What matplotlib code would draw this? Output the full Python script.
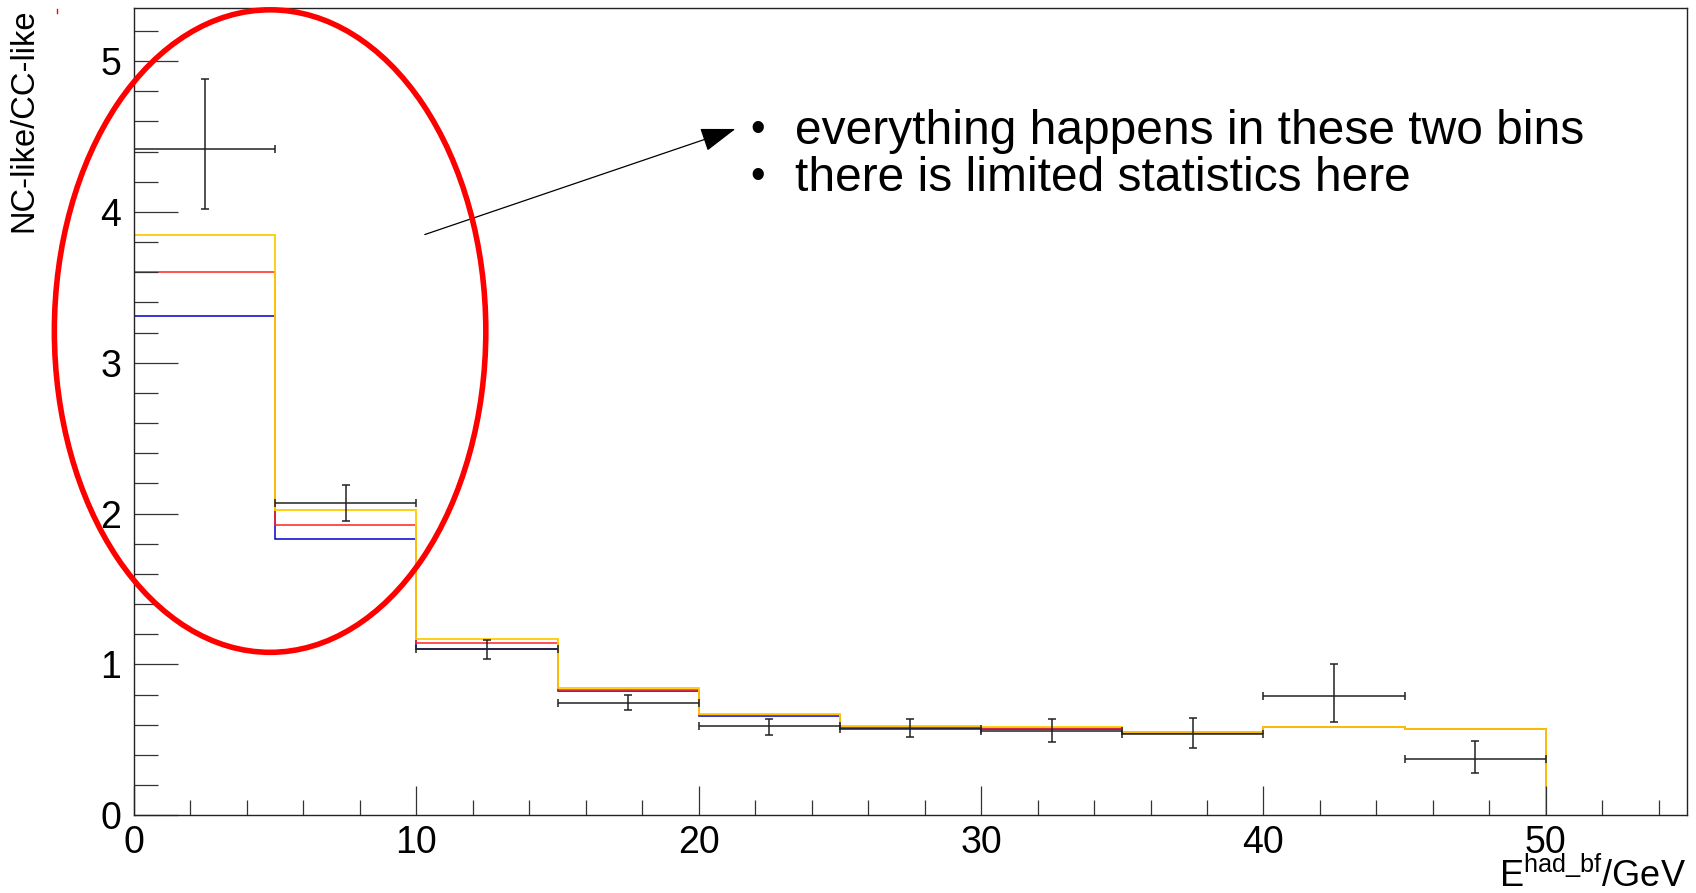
import numpy as np
import matplotlib
matplotlib.use('Agg')
import matplotlib.pyplot as plt
from matplotlib.patches import Ellipse

plt.rcParams['font.family'] = ['Liberation Sans', 'DejaVu Sans']
plt.rcParams['mathtext.fontset'] = 'custom'
plt.rcParams['mathtext.rm'] = 'Liberation Sans'
plt.rcParams['mathtext.it'] = 'Liberation Sans'

# bin edges in E_had_bf (GeV)
edges = [0, 5, 10, 15, 20, 25, 30, 35, 40, 45, 50]

# measured ratio with errors
data_y = [4.42, 2.07, 1.10, 0.745, 0.59, 0.57, 0.556, 0.536, 0.79, 0.372]
data_err_lo = [0.40, 0.12, 0.065, 0.05, 0.055, 0.05, 0.07, 0.09, 0.17, 0.09]
data_err_hi = [0.46, 0.12, 0.06, 0.05, 0.05, 0.07, 0.085, 0.11, 0.21, 0.12]

# model curves
blue_y = [3.31, 1.83, 1.104, 0.822, 0.655, 0.576, 0.571, 0.545, 0.582, 0.573]
red_y = [3.60, 1.924, 1.139, 0.833, 0.665, 0.582, 0.575, 0.549, 0.582, 0.573]
yellow_y = [3.85, 2.024, 1.168, 0.846, 0.673, 0.589, 0.582, 0.553, 0.582, 0.573]

centers = [(a + b) / 2 for a, b in zip(edges[:-1], edges[1:])]
half_w = [(b - a) / 2 for a, b in zip(edges[:-1], edges[1:])]

fig = plt.figure(figsize=(16.96, 8.93), dpi=100)
ax = fig.add_axes([0.079, 0.0871, 0.9157, 0.9036])

ax.stairs(blue_y, edges, baseline=0, color='#0000cc', lw=1.1)
ax.stairs(red_y, edges, baseline=0, color='#ff2020', lw=1.1)
ax.stairs(yellow_y, edges, baseline=0, color='#ffcc00', lw=1.3)

ax.errorbar(centers, data_y, xerr=half_w, yerr=[data_err_lo, data_err_hi],
            fmt='none', ecolor='#222222', elinewidth=1.1, capsize=3, capthick=1.1)

ax.set_xlim(0, 55)
ax.set_ylim(0, 5.35)
ax.set_xticks([0, 10, 20, 30, 40, 50])
ax.set_xticks(np.arange(0, 56, 2), minor=True)
ax.set_yticks([0, 1, 2, 3, 4, 5])
ax.set_yticks(np.arange(0, 5.35, 0.2), minor=True)

ax.tick_params(axis='both', which='both', direction='in', top=False, right=False,
               width=0.9, color='#333333', labelsize=27)
ax.tick_params(axis='y', which='major', length=32, pad=9)
ax.tick_params(axis='y', which='minor', length=17)
ax.tick_params(axis='x', which='major', length=21, pad=7)
ax.tick_params(axis='x', which='minor', length=11)
for s in ax.spines.values():
    s.set_linewidth(1.0)
    s.set_color('#222222')

# highlight ellipse around the first two bins
ell = Ellipse((4.82, 3.21), 15.28, 4.26, fill=False, edgecolor='#ff0000', lw=4,
              clip_on=False, zorder=5)
ax.add_patch(ell)

# arrow pointing to the comments
ax.annotate('', xy=(21.3, 4.55), xytext=(10.3, 3.85),
            arrowprops=dict(arrowstyle='-|>,head_length=2.2,head_width=0.75',
                            color='black', lw=0.9, shrinkA=0, shrinkB=0))

ax.text(22.1, 4.47, '\u2022', fontsize=30, ha='center', va='baseline')
ax.text(23.4, 4.45, 'everything happens in these two bins', fontsize=34.5, va='baseline')
ax.text(22.1, 4.16, '\u2022', fontsize=30, ha='center', va='baseline')
ax.text(23.4, 4.14, 'there is limited statistics here', fontsize=34.5, va='baseline')

fig.text(24 / 1696, 1 - 8.7 / 893, 'NC-like/CC-like', rotation=90, ha='center', va='top',
         fontsize=23.5)
fig.text(1686 / 1696, 6 / 893, r'E$^{\rm had\_bf}$/GeV', ha='right', va='baseline',
         fontsize=26)

# small red mark at top left
fig.add_artist(plt.Line2D([57 / 1696, 57 / 1696], [1 - 9 / 893, 1 - 13 / 893],
                          color='#ff0000', lw=1))

fig.savefig('out.png', dpi=100, facecolor='white')
